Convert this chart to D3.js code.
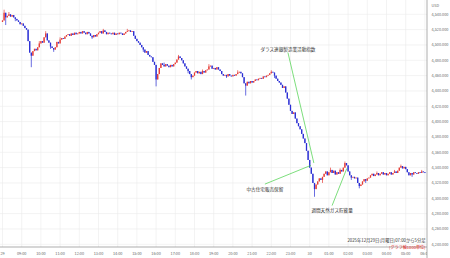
<!DOCTYPE html>
<html>
<head>
<meta charset="utf-8">
<script src="https://cdn.jsdelivr.net/npm/d3@7/dist/d3.min.js"></script>
<style>
  body { margin: 0; background: #fff; }
  svg { display: block; font-family: "Noto Sans CJK JP", "Noto Sans", sans-serif; }
</style>
</head>
<body>
<div id="chart"></div>
<script>
const width = 450;
const height = 258;

// 5 minute bars starting 2025-12-29 08:00 (JST)
const startTime = new Date(2025, 11, 29, 8, 0);
const endTime = new Date(2025, 11, 30, 6, 0);
const firstOpen = 4530;

// closes, one row per hour (12 bars)
const closes = [
  4532, 4542, 4536, 4538, 4540, 4537, 4539, 4536, 4534, 4532, 4530, 4527, // 08
  4528, 4525, 4522, 4520, 4505, 4490, 4486, 4492, 4495, 4493, 4497, 4502, // 09
  4505, 4503, 4510, 4515, 4506, 4503, 4498, 4496, 4494, 4497, 4504, 4502, // 10
  4507, 4509, 4508, 4511, 4513, 4514, 4512, 4515, 4513, 4516, 4514, 4515, // 11
  4517, 4515, 4518, 4516, 4514, 4517, 4515, 4512, 4510, 4513, 4511, 4514, // 12
  4516, 4518, 4515, 4519, 4517, 4514, 4516, 4515, 4514, 4516, 4513, 4515, // 13
  4514, 4516, 4515, 4513, 4515, 4517, 4518, 4519, 4517, 4518, 4512, 4508, // 14
  4505, 4503, 4500, 4497, 4494, 4490, 4492, 4487, 4485, 4484, 4478, 4474, // 15
  4455, 4462, 4470, 4476, 4474, 4472, 4475, 4473, 4471, 4474, 4472, 4475, // 16
  4477, 4481, 4485, 4483, 4480, 4476, 4472, 4469, 4466, 4462, 4458, 4460, // 17
  4464, 4466, 4463, 4465, 4462, 4466, 4464, 4467, 4468, 4472, 4473, 4469, // 18
  4470, 4468, 4471, 4468, 4466, 4462, 4460, 4461, 4459, 4462, 4460, 4459, // 19
  4461, 4460, 4462, 4464, 4465, 4463, 4458, 4450, 4447, 4452, 4450, 4453, // 20
  4451, 4453, 4455, 4454, 4456, 4457, 4456, 4459, 4458, 4460, 4461, 4463, // 21
  4465, 4464, 4460, 4456, 4453, 4451, 4448, 4444, 4446, 4438, 4430, 4422, // 22
  4414, 4410, 4412, 4404, 4398, 4394, 4390, 4384, 4378, 4372, 4362, 4350, // 23
  4340, 4332, 4320, 4312, 4318, 4322, 4326, 4324, 4328, 4332, 4335, 4330, // 00
  4334, 4337, 4333, 4336, 4331, 4334, 4332, 4337, 4335, 4340, 4346, 4343, // 01
  4335, 4330, 4327, 4328, 4326, 4327, 4320, 4316, 4318, 4322, 4325, 4323, // 02
  4326, 4327, 4330, 4332, 4329, 4331, 4333, 4330, 4332, 4334, 4331, 4333, // 03
  4330, 4332, 4334, 4331, 4333, 4335, 4333, 4336, 4340, 4342, 4339, 4341, // 04
  4338, 4334, 4330, 4333, 4331, 4334, 4333, 4332, 4334, 4333, 4335, 4334, // 05
  4333                                                                     // 06
];

// notable wicks (bar index -> price)
const wickHighs = {
  1: 4546, 4: 4543, 23: 4505, 27: 4518, 36: 4510, 63: 4521, 78: 4521, 101: 4477,
  110: 4487, 125: 4468, 129: 4475, 147: 4467, 168: 4467, 186: 4394, 205: 4340,
  211: 4339, 214: 4348, 234: 4335, 245: 4337, 249: 4344, 262: 4337
};
const wickLows = {
  2: 4526, 8: 4531, 18: 4471, 30: 4495, 32: 4491, 56: 4508, 88: 4491, 96: 4446,
  116: 4463, 118: 4455, 140: 4457, 152: 4434, 170: 4457, 195: 4302, 200: 4320,
  218: 4324, 223: 4313, 227: 4320, 256: 4328
};

const priceTicks = [4540, 4520, 4500, 4480, 4460, 4440, 4420, 4400, 4380, 4360, 4340, 4320, 4300, 4280, 4260, 4240];
const hourLabels = ["29", "09:00", "10:00", "11:00", "12:00", "13:00", "14:00", "15:00", "16:00",
  "17:00", "18:00", "19:00", "20:00", "21:00", "22:00", "23:00", "30", "01:00", "02:00",
  "03:00", "04:00", "05:00", "06:00"];

const events = [
  { text: "ダラス連銀製造業活動指数", time: new Date(2025, 11, 30, 0, 13), price: 4346,
    labelTime: new Date(2025, 11, 29, 22, 52), labelPrice: 4494 },
  { text: "中古住宅販売保留", time: new Date(2025, 11, 30, 0, 4), price: 4343,
    labelTime: new Date(2025, 11, 29, 21, 40), labelPrice: 4312 },
  { text: "週間天然ガス貯蔵量", time: new Date(2025, 11, 30, 1, 56), price: 4339,
    labelTime: new Date(2025, 11, 30, 1, 10), labelPrice: 4284 }
];

const noteLine1 = "2025年12月29日(月曜日)07:00から5分足";
const noteLine2 = "(グラフ軸1000単位)";

const bars = closes.map((c, i) => {
  const open = i ? closes[i - 1] : firstOpen;
  return {
    time: d3.timeMinute.offset(startTime, i * 5),
    open: open,
    close: c,
    high: wickHighs[i] !== undefined ? wickHighs[i] : Math.max(open, c),
    low: wickLows[i] !== undefined ? wickLows[i] : Math.min(open, c)
  };
});

const plotRight = 427;
const axisY = 247;
const upColor = "#e63c36";
const downColor = "#2a2ed4";

const x = d3.scaleTime().domain([startTime, endTime]).range([2.5, 424.9]);
const y = d3.scaleLinear().domain([4240, 4540]).range([244.3, 14.3]);

const svg = d3.select("#chart").append("svg")
  .attr("width", width)
  .attr("height", height);

svg.append("defs").append("clipPath").attr("id", "plot-clip")
  .append("rect").attr("x", 0).attr("y", 0).attr("width", plotRight).attr("height", height);

const hourTicks = hourLabels.map((d, i) => d3.timeHour.offset(startTime, i));

// grid
const grid = svg.append("g").attr("stroke", "#ebebeb").attr("stroke-width", 0.6);
grid.selectAll("line.v").data(hourTicks).join("line")
  .attr("class", "v")
  .attr("x1", d => x(d)).attr("x2", d => x(d))
  .attr("y1", 0).attr("y2", axisY);
grid.selectAll("line.h").data(priceTicks).join("line")
  .attr("class", "h")
  .attr("x1", 0).attr("x2", plotRight)
  .attr("y1", d => y(d)).attr("y2", d => y(d));

// candles
const candle = svg.append("g").attr("clip-path", "url(#plot-clip)")
  .selectAll("g").data(bars).join("g");

candle.append("line")
  .attr("x1", d => x(d.time)).attr("x2", d => x(d.time))
  .attr("y1", d => y(d.high)).attr("y2", d => y(d.low))
  .attr("stroke", d => d.close > d.open ? upColor : downColor)
  .attr("stroke-width", 0.7);

candle.append("rect")
  .attr("x", d => x(d.time) - 0.65)
  .attr("width", 1.3)
  .attr("y", d => y(Math.max(d.open, d.close)))
  .attr("height", d => Math.max(0.8, Math.abs(y(d.open) - y(d.close))))
  .attr("fill", d => d.close > d.open ? upColor : downColor);

// event annotations
const ann = svg.append("g");
ann.selectAll("line").data(events).join("line")
  .attr("x1", d => x(d.labelTime))
  .attr("y1", d => y(d.labelPrice) + (y(d.price) < y(d.labelPrice) ? -5 : 3))
  .attr("x2", d => x(d.time))
  .attr("y2", d => y(d.price))
  .attr("stroke", "#45d045")
  .attr("stroke-width", 0.7);
ann.selectAll("text").data(events).join("text")
  .attr("x", d => x(d.labelTime))
  .attr("y", d => y(d.labelPrice))
  .attr("dy", "0.35em")
  .attr("text-anchor", "middle")
  .attr("font-size", 4.6)
  .attr("fill", "#333")
  .text(d => d.text);

// axes lines
svg.append("line")
  .attr("x1", 0).attr("x2", plotRight)
  .attr("y1", axisY).attr("y2", axisY)
  .attr("stroke", "#8a8a8a").attr("stroke-width", 0.7);
svg.append("line")
  .attr("x1", plotRight).attr("x2", plotRight)
  .attr("y1", 0).attr("y2", height)
  .attr("stroke", "#8a8a8a").attr("stroke-width", 0.7);

// time labels
svg.append("g").attr("clip-path", "url(#plot-clip)")
  .selectAll("text").data(hourTicks).join("text")
  .attr("x", d => x(d))
  .attr("y", 254.5)
  .attr("text-anchor", "middle")
  .attr("font-size", 3.8)
  .attr("fill", "#666")
  .text((d, i) => hourLabels[i]);

// price labels
const fmt = d3.format(",.3f");
svg.append("g").selectAll("text").data(priceTicks).join("text")
  .attr("x", 431.5)
  .attr("y", d => y(d))
  .attr("dy", "0.35em")
  .attr("font-size", 3.8)
  .attr("fill", "#666")
  .text(d => fmt(d));
svg.append("text")
  .attr("x", 431.5).attr("y", 7)
  .attr("font-size", 3.8)
  .attr("fill", "#666")
  .text("USD");

// note
svg.append("text")
  .attr("x", 425.5).attr("y", 242)
  .attr("text-anchor", "end")
  .attr("font-size", 4.3)
  .attr("fill", "#333")
  .text(noteLine1);
svg.append("text")
  .attr("x", 425.5).attr("y", 248.5)
  .attr("text-anchor", "end")
  .attr("font-size", 4.1)
  .attr("fill", "#e02020")
  .text(noteLine2);
</script>
</body>
</html>
